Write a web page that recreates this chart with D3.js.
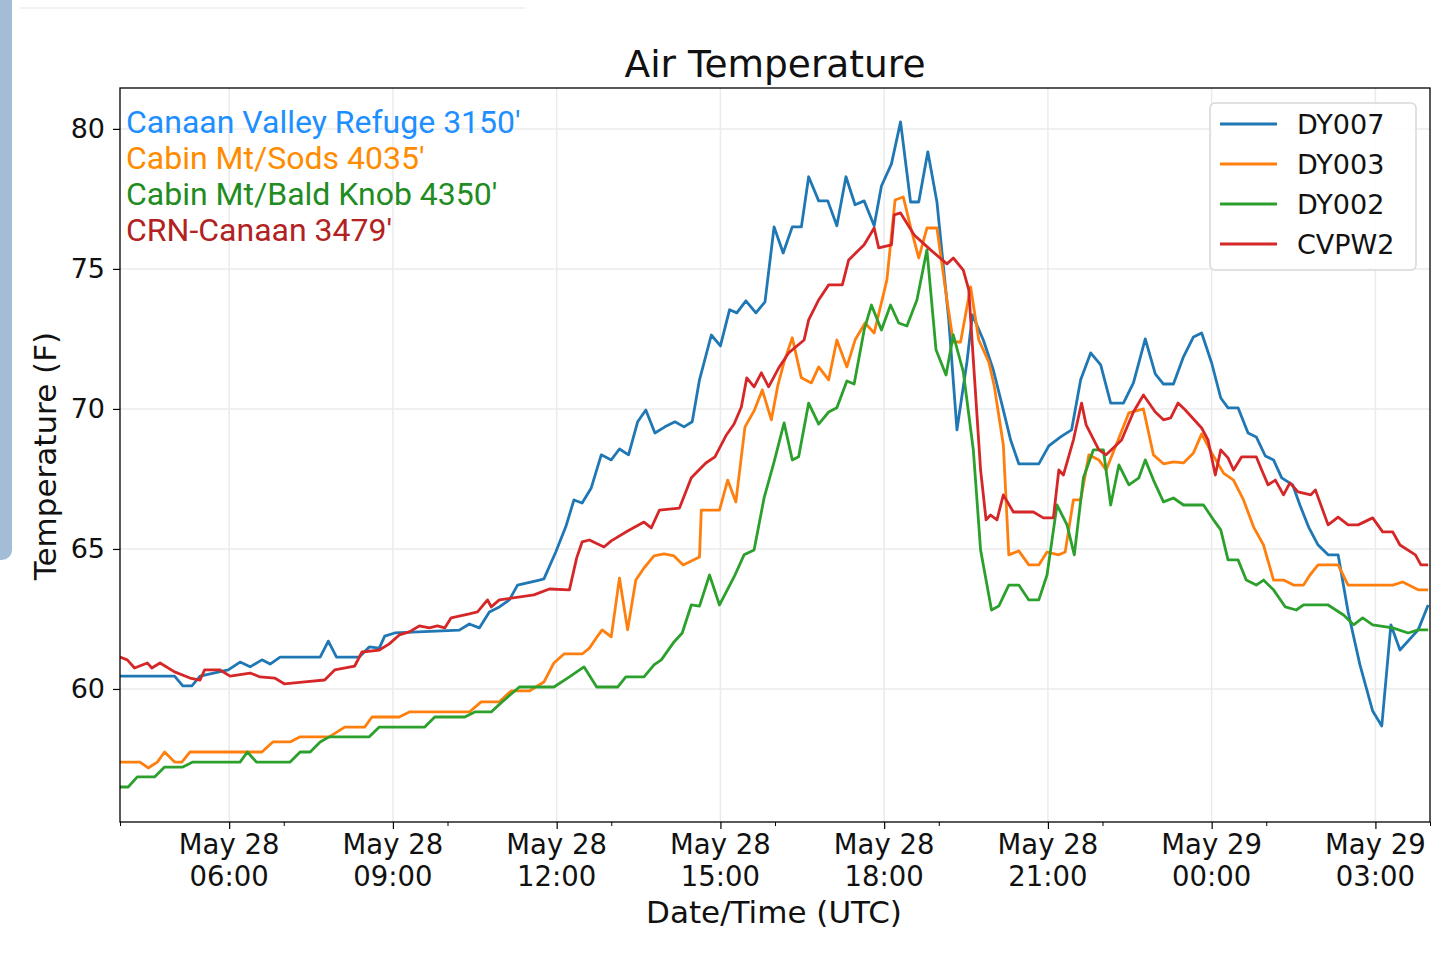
<!DOCTYPE html>
<html><head><meta charset="utf-8">
<script src="https://cdn.jsdelivr.net/npm/d3@7"></script>
<style>body{margin:0;background:#fff;}svg{display:block;font-family:"DejaVu Sans",sans-serif;}</style>
</head><body><svg id="c" width="1440" height="954"></svg>
<script>
// minutes since May 28 04:00 UTC, temperature (F)
const dy007 = [[0,60.46],[60,60.46],[69,60.11],[79,60.11],[88,60.46],[119,60.68],[132,60.96],[143,60.79],[156,61.04],[165,60.89],[176,61.14],[220,61.14],[229,61.71],[238,61.14],[263,61.14],[274,61.5],[285,61.46],[291,61.89],[302,62.0],[373,62.1],[384,62.32],[395,62.18],[406,62.75],[417,62.93],[428,63.18],[437,63.71],[461,63.89],[466,63.93],[479,64.89],[490,65.79],[499,66.75],[508,66.64],[518,67.18],[529,68.36],[540,68.18],[549,68.57],[559,68.36],[569,69.54],[578,69.96],[588,69.14],[599,69.36],[610,69.54],[620,69.36],[629,69.54],[637,71.04],[650,72.64],[660,72.25],[670,73.54],[678,73.43],[688,73.86],[699,73.43],[709,73.82],[719,76.5],[729,75.57],[739,76.5],[749,76.5],[757,78.29],[768,77.43],[778,77.43],[788,76.54],[798,78.29],[808,77.29],[818,77.43],[829,76.54],[837,77.96],[848,78.75],[858,80.25],[869,77.39],[878,77.39],[888,79.18],[898,77.39],[911,73.18],[920,69.25],[931,71.68],[937,73.36],[949,72.46],[960,71.39],[971,69.96],[979,68.89],[988,68.04],[1010,68.04],[1021,68.68],[1034,69.0],[1046,69.25],[1056,71.04],[1067,72.0],[1078,71.57],[1089,70.21],[1103,70.21],[1114,70.93],[1127,72.5],[1138,71.25],[1147,70.89],[1158,70.89],[1169,71.86],[1180,72.57],[1189,72.71],[1200,71.64],[1210,70.39],[1218,70.04],[1229,70.04],[1240,69.14],[1249,69.0],[1259,68.32],[1268,68.18],[1277,67.54],[1289,67.29],[1297,66.57],[1307,65.75],[1317,65.14],[1328,64.79],[1339,64.79],[1350,62.75],[1363,60.86],[1377,59.21],[1387,58.68],[1397,62.29],[1407,61.39],[1427,62.11],[1438,63.0]];
const dy003 = [[0,57.39],[22,57.39],[31,57.18],[41,57.39],[49,57.75],[60,57.39],[68,57.39],[77,57.75],[156,57.75],[168,58.11],[187,58.11],[198,58.29],[230,58.29],[247,58.64],[269,58.64],[277,59.0],[307,59.0],[318,59.18],[384,59.18],[397,59.54],[417,59.54],[430,59.93],[450,59.93],[466,60.25],[477,60.93],[488,61.25],[508,61.25],[516,61.46],[525,61.89],[530,62.11],[540,61.86],[549,63.96],[558,62.11],[567,63.89],[576,64.32],[587,64.75],[598,64.82],[609,64.75],[619,64.43],[637,64.71],[639,66.39],[659,66.39],[668,67.46],[677,66.68],[687,69.36],[697,69.93],[706,70.68],[716,69.61],[723,70.82],[730,71.68],[739,72.54],[749,71.11],[760,70.93],[768,71.5],[779,71.04],[788,72.46],[799,71.5],[808,72.46],[819,73.07],[829,72.71],[843,74.61],[852,77.46],[861,77.57],[869,76.5],[878,75.39],[887,76.46],[898,76.46],[909,73.89],[916,72.39],[924,72.39],[935,74.36],[944,72.46],[955,71.68],[961,70.82],[971,68.71],[977,64.79],[988,64.93],[999,64.43],[1010,64.43],[1019,64.89],[1032,64.79],[1039,64.89],[1048,66.75],[1056,66.75],[1065,68.36],[1076,68.18],[1084,67.82],[1095,68.71],[1109,69.86],[1125,70.0],[1136,68.36],[1147,68.04],[1158,68.11],[1169,68.07],[1180,68.43],[1189,69.11],[1200,68.43],[1213,67.71],[1224,67.46],[1235,66.75],[1246,65.79],[1257,65.14],[1268,63.89],[1279,63.89],[1290,63.71],[1301,63.71],[1308,64.07],[1317,64.43],[1339,64.43],[1350,63.71],[1399,63.71],[1410,63.82],[1427,63.54],[1438,63.54]];
const dy002 = [[0,56.5],[9,56.5],[19,56.86],[38,56.86],[49,57.21],[69,57.21],[80,57.39],[132,57.39],[140,57.75],[150,57.39],[187,57.39],[198,57.75],[209,57.75],[220,58.11],[230,58.29],[274,58.29],[285,58.64],[335,58.64],[346,59.0],[379,59.0],[390,59.18],[408,59.18],[420,59.54],[439,60.07],[477,60.07],[494,60.43],[510,60.79],[524,60.07],[547,60.07],[556,60.43],[576,60.43],[587,60.86],[595,61.04],[609,61.68],[618,62.0],[628,63.0],[637,62.96],[648,64.07],[659,63.0],[675,64.0],[686,64.79],[697,64.96],[708,66.82],[719,68.11],[730,69.5],[739,68.18],[746,68.29],[757,70.21],[768,69.46],[779,69.89],[788,70.04],[799,71.0],[807,70.89],[818,72.82],[826,73.71],[837,72.82],[847,73.71],[856,73.07],[865,72.96],[876,73.89],[887,75.68],[897,72.11],[908,71.21],[916,72.64],[927,71.32],[938,68.54],[946,64.96],[958,62.82],[966,62.96],[977,63.71],[988,63.71],[999,63.18],[1010,63.18],[1019,64.07],[1030,66.57],[1041,65.86],[1049,64.79],[1059,67.54],[1070,68.54],[1081,68.54],[1089,66.57],[1098,68.0],[1109,67.29],[1120,67.54],[1127,68.18],[1136,67.46],[1147,66.68],[1158,66.82],[1169,66.57],[1191,66.57],[1202,66.04],[1210,65.68],[1218,64.61],[1229,64.61],[1238,63.89],[1249,63.71],[1257,63.89],[1268,63.54],[1281,62.93],[1293,62.82],[1301,63.0],[1328,63.0],[1345,62.64],[1356,62.29],[1366,62.54],[1377,62.29],[1399,62.18],[1416,62.0],[1427,62.11],[1438,62.11]];
const cvpw2 = [[0,61.14],[8,61.04],[16,60.75],[30,60.93],[35,60.75],[44,60.93],[60,60.61],[77,60.39],[88,60.32],[93,60.68],[110,60.68],[121,60.46],[143,60.57],[154,60.43],[170,60.39],[181,60.18],[203,60.25],[225,60.32],[236,60.68],[258,60.82],[266,61.32],[285,61.39],[296,61.61],[307,61.93],[318,62.04],[329,62.25],[340,62.18],[349,62.25],[357,62.18],[364,62.54],[384,62.68],[393,62.75],[404,63.18],[408,62.93],[417,63.18],[455,63.36],[472,63.57],[494,63.54],[502,64.68],[508,65.25],[516,65.32],[532,65.07],[540,65.29],[558,65.64],[576,65.96],[584,65.75],[593,66.39],[615,66.46],[628,67.54],[644,68.07],[654,68.29],[666,69.04],[675,69.46],[683,70.07],[689,71.11],[697,70.79],[705,71.29],[713,70.79],[724,71.46],[735,72.0],[752,72.46],[757,73.18],[768,73.89],[779,74.43],[794,74.43],[801,75.32],[818,75.86],[829,76.46],[834,75.75],[848,75.86],[851,76.93],[858,77.0],[873,76.21],[891,75.68],[909,75.18],[916,75.39],[927,74.96],[933,74.25],[938,71.75],[946,67.82],[952,66.04],[957,66.21],[964,66.04],[971,66.93],[982,66.32],[1004,66.32],[1015,66.11],[1026,66.11],[1032,67.82],[1037,67.64],[1048,68.89],[1057,70.21],[1062,69.43],[1076,68.54],[1084,68.36],[1101,68.89],[1114,69.89],[1125,70.5],[1138,69.89],[1147,69.61],[1155,69.68],[1163,70.21],[1171,69.96],[1189,69.32],[1196,68.89],[1204,67.64],[1210,68.54],[1218,68.25],[1224,67.82],[1233,68.29],[1249,68.29],[1255,67.82],[1262,67.29],[1270,67.46],[1279,66.93],[1286,67.36],[1295,67.04],[1309,66.93],[1314,67.11],[1328,65.86],[1339,66.14],[1350,65.86],[1361,65.86],[1377,66.11],[1388,65.61],[1399,65.61],[1407,65.14],[1424,64.79],[1430,64.43],[1438,64.43]];
const seriesNames = ["DY007","DY003","DY002","CVPW2"];
const seriesColors = ["#1f77b4","#ff7f0e","#2ca02c","#d62728"];
const stationLabels = ["Canaan Valley Refuge 3150'","Cabin Mt/Sods 4035'","Cabin Mt/Bald Knob 4350'","CRN-Canaan 3479'"];
const stationColors = ["#1e8fff","#ff8c00","#228b22","#b22222"];
const yTicks = [60,65,70,75,80];
const xTickLabels = [["May 28","06:00"],["May 28","09:00"],["May 28","12:00"],["May 28","15:00"],["May 28","18:00"],["May 28","21:00"],["May 29","00:00"],["May 29","03:00"]];
const xTickMinutes = [120,300,480,660,840,1020,1200,1380];
const xMinorMinutes = [0,180,360,540,720,900,1080,1260,1440];

const svg = d3.select("#c");
const L=120,R=1430,T=88,B=822;
const x = d3.scaleLinear().domain([0,1440]).range([L,R]);
const y = d3.scaleLinear().domain([55.25,81.46]).range([B,T]);

svg.append("rect").attr("x",-10).attr("y",-10).attr("width",22).attr("height",570).attr("rx",10).attr("fill","#a3bdd6");
svg.append("line").attr("x1",20).attr("x2",525).attr("y1",8).attr("y2",8).attr("stroke","#eee").attr("stroke-width",1.5);

const g = svg.append("g");
g.selectAll(".gx").data(xTickMinutes).join("line").attr("x1",d=>x(d)).attr("x2",d=>x(d)).attr("y1",T).attr("y2",B).attr("stroke","#ebebeb").attr("stroke-width",1.5);
g.selectAll(".gy").data(yTicks).join("line").attr("x1",L).attr("x2",R).attr("y1",d=>y(d)).attr("y2",d=>y(d)).attr("stroke","#ebebeb").attr("stroke-width",1.5);

const xa = svg.append("g").attr("transform",`translate(0,${B})`).call(d3.axisBottom(x).tickValues(xTickMinutes).tickSize(7).tickFormat(""));
xa.select(".domain").remove();
xa.selectAll("line").attr("stroke","#000").attr("stroke-width",1.2);
svg.append("g").attr("transform",`translate(0,${B})`).call(d3.axisBottom(x).tickValues(xMinorMinutes).tickSize(4).tickFormat("")).call(s=>{s.select(".domain").remove();s.selectAll("line").attr("stroke","#000");});
xTickMinutes.forEach((m,i)=>{
  const t=svg.append("text").attr("x",x(m)).attr("y",854).attr("text-anchor","middle").attr("font-size",27.5).attr("fill","#111");
  t.append("tspan").attr("x",x(m)).attr("dy",0).text(xTickLabels[i][0]);
  t.append("tspan").attr("x",x(m)).attr("dy",32).text(xTickLabels[i][1]);
});
const ya = svg.append("g").attr("transform",`translate(${L},0)`).call(d3.axisLeft(y).tickValues(yTicks).tickSize(7).tickPadding(8));
ya.select(".domain").remove();
ya.selectAll("line").attr("stroke","#000").attr("stroke-width",1.2);
ya.selectAll("text").attr("font-size",27).attr("fill","#111").attr("font-family","DejaVu Sans");

const line = d3.line().x(d=>x(d[0])).y(d=>y(d[1]));
svg.append("clipPath").attr("id","pc").append("rect").attr("x",L).attr("y",T).attr("width",R-L).attr("height",B-T);
[dy007,dy003,dy002,cvpw2].forEach((s,i)=>{
  svg.append("path").datum(s).attr("d",line).attr("fill","none").attr("stroke",seriesColors[i]).attr("stroke-width",2.8).attr("stroke-linejoin","round").attr("clip-path","url(#pc)");
});
svg.append("rect").attr("x",L).attr("y",T).attr("width",R-L).attr("height",B-T).attr("fill","none").attr("stroke","#000").attr("stroke-width",1.3);

stationLabels.forEach((t,i)=>svg.append("text").attr("x",126).attr("y",133+i*36).attr("font-size",32).attr("fill",stationColors[i]).attr("font-family","Roboto, 'DejaVu Sans'").text(t));

svg.append("rect").attr("x",1210).attr("y",103).attr("width",206).attr("height",167).attr("rx",5).attr("fill","#fff").attr("fill-opacity",0.85).attr("stroke","#d8d8d8").attr("stroke-width",1.5);
seriesNames.forEach((n,i)=>{
  const yy=124+i*40;
  svg.append("line").attr("x1",1220).attr("x2",1277).attr("y1",yy).attr("y2",yy).attr("stroke",seriesColors[i]).attr("stroke-width",2.8);
  svg.append("text").attr("x",1297).attr("y",yy+10).attr("font-size",27).attr("fill","#111").text(n);
});

svg.append("text").attr("x",775).attr("y",77).attr("text-anchor","middle").attr("font-size",37.5).attr("fill","#111").text("Air Temperature");
svg.append("text").attr("x",774).attr("y",923).attr("text-anchor","middle").attr("font-size",31).attr("fill","#111").text("Date/Time (UTC)");
svg.append("text").attr("transform","translate(56,456) rotate(-90)").attr("text-anchor","middle").attr("font-size",31).attr("fill","#111").text("Temperature (F)");
</script></body></html>
